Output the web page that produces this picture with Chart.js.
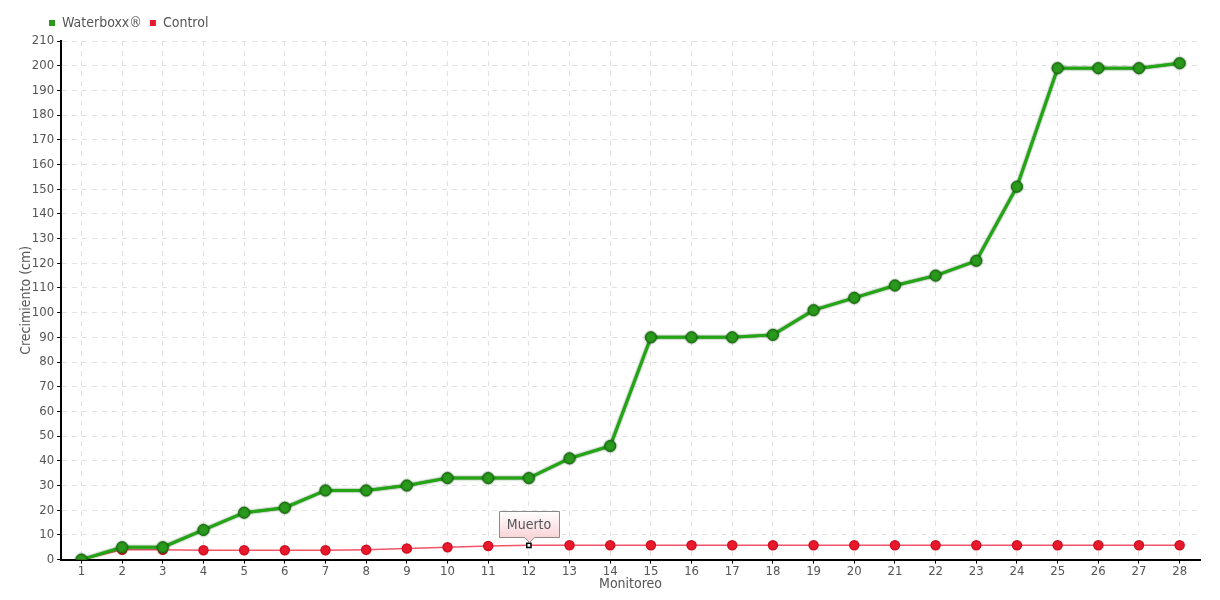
<!DOCTYPE html>
<html>
<head>
<meta charset="utf-8">
<script src="https://cdn.jsdelivr.net/npm/chart.js@4.4.0/dist/chart.umd.min.js"></script>
<style>
  html, body { margin: 0; padding: 0; background: #fff; }
  #wrap { width: 1220px; height: 600px; }
</style>
</head>
<body>
<div id="wrap"><canvas id="growthChart" width="1220" height="600"></canvas></div>
<script>
// Datos del monitoreo
const monitoreos = ['1','2','3','4','5','6','7','8','9','10','11','12','13','14','15','16','17','18','19','20','21','22','23','24','25','26','27','28'];
const waterboxx = [0, 5, 5, 12, 19, 21, 28, 28, 30, 33, 33, 33, 41, 46, 90, 90, 90, 91, 101, 106, 111, 115, 121, 151, 199, 199, 199, 201];
const control = [0, 4, 4, 3.8, 3.8, 3.8, 3.8, 4, 4.5, 5, 5.5, 5.8, 5.8, 5.8, 5.8, 5.8, 5.8, 5.8, 5.8, 5.8, 5.8, 5.8, 5.8, 5.8, 5.8, 5.8, 5.8, 5.8];
const muertoIndex = 11;
const muertoLabel = 'Muerto';

const FONT = '"DejaVu Sans Condensed", "Liberation Sans Narrow", sans-serif';
const TEXT = '#555555';

// Sombra para la linea verde
const lineShadow = {
    id: 'lineShadow',
    beforeDatasetDraw(chart, args) {
        if (args.index !== 0) return;
        chart.ctx.save();
        chart.ctx.shadowColor = 'rgba(10, 70, 0, 0.8)';
        chart.ctx.shadowBlur = 2;
    },
    afterDatasetDraw(chart, args) {
        if (args.index !== 0) return;
        chart.ctx.restore();
    }
};

// Leyenda un poco a la derecha, como en el original
const legendShift = {
    id: 'legendShift',
    afterLayout(chart) {
        chart.legend.left += 33;
        chart.legend.top -= 1;
    }
};

// Etiqueta "Muerto" sobre el punto del control
const muertoTag = {
    id: 'muertoTag',
    afterDatasetsDraw(chart) {
        const pt = chart.getDatasetMeta(1).data[muertoIndex];
        if (!pt) return;
        const ctx = chart.ctx;
        const w = 60, h = 26, caret = 5;
        const x = Math.round(pt.x - w / 2);
        const bottom = Math.round(pt.y - 8);
        const top = bottom - h;
        const cx = Math.round(pt.x);
        ctx.save();
        const grad = ctx.createLinearGradient(0, top, 0, bottom);
        grad.addColorStop(0, '#ffffff');
        grad.addColorStop(1, '#f9d5d9');
        ctx.beginPath();
        ctx.moveTo(x + 0.5, top + 0.5);
        ctx.lineTo(x + w + 0.5, top + 0.5);
        ctx.lineTo(x + w + 0.5, bottom + 0.5);
        ctx.lineTo(cx + caret + 0.5, bottom + 0.5);
        ctx.lineTo(cx + 0.5, bottom + caret + 0.5);
        ctx.lineTo(cx - caret + 0.5, bottom + 0.5);
        ctx.lineTo(x + 0.5, bottom + 0.5);
        ctx.closePath();
        ctx.fillStyle = grad;
        ctx.fill();
        ctx.strokeStyle = '#8a8a8a';
        ctx.lineWidth = 1;
        ctx.stroke();
        ctx.fillStyle = TEXT;
        ctx.font = '14px ' + FONT;
        ctx.textAlign = 'center';
        ctx.textBaseline = 'middle';
        ctx.fillText(muertoLabel, cx, top + h / 2 + 1);
        ctx.restore();
    }
};

const pointStyles = control.map((v, i) => i === muertoIndex ? 'rect' : 'circle');
const pointBg = control.map((v, i) => i === muertoIndex ? '#ffffff' : '#e8192c');
const pointBorder = control.map((v, i) => i === muertoIndex ? '#000000' : '#d0101f');
const pointRad = control.map((v, i) => i === muertoIndex ? 3 : 4.5);

new Chart(document.getElementById('growthChart'), {
    type: 'line',
    data: {
        labels: monitoreos,
        datasets: [{
            label: 'Waterboxx®',
            data: waterboxx,
            borderColor: '#22a614',
            backgroundColor: '#2b9a1c',
            borderWidth: 3,
            tension: 0,
            pointRadius: 5.5,
            pointBackgroundColor: '#2a9a1c',
            pointBorderColor: '#1a6e10',
            pointBorderWidth: 1
        }, {
            label: 'Control',
            data: control,
            borderColor: '#f4546a',
            backgroundColor: '#e8192c',
            borderWidth: 1.5,
            tension: 0,
            pointStyle: pointStyles,
            pointRadius: pointRad,
            pointBackgroundColor: pointBg,
            pointBorderColor: pointBorder,
            pointBorderWidth: 1.5
        }]
    },
    options: {
        responsive: false,
        animation: false,
        layout: { padding: { left: 8, right: 20, top: 9, bottom: 7 } },
        plugins: {
            legend: {
                position: 'top',
                align: 'start',
                labels: {
                    boxWidth: 6,
                    boxHeight: 6,
                    padding: 8,
                    color: TEXT,
                    font: { family: FONT, size: 14 },
                    generateLabels(chart) {
                        return chart.data.datasets.map((ds, i) => ({
                            text: ds.label,
                            fillStyle: ds.backgroundColor,
                            strokeStyle: ds.backgroundColor,
                            lineWidth: 0,
                            fontColor: TEXT,
                            datasetIndex: i,
                            hidden: false
                        }));
                    }
                }
            },
            tooltip: { enabled: false }
        },
        scales: {
            x: {
                offset: true,
                grid: {
                    offset: false,
                    color: '#e2e2e2',
                    tickColor: '#000000',
                    tickBorderDash: [],
                    tickLength: 4
                },
                border: { color: '#000000', width: 2, dash: [5, 5] },
                ticks: { color: TEXT, font: { family: FONT, size: 13 }, padding: 0, maxRotation: 0, autoSkip: false },
                title: { display: true, text: 'Monitoreo', color: TEXT, font: { family: FONT, size: 14 }, padding: { top: -3, bottom: 0 } }
            },
            y: {
                min: 0,
                max: 210,
                grid: {
                    color: '#e2e2e2',
                    tickColor: '#000000',
                    tickBorderDash: [],
                    tickLength: 4
                },
                border: { color: '#000000', width: 2, dash: [5, 5] },
                ticks: { stepSize: 10, color: TEXT, font: { family: FONT, size: 13 }, padding: 3 },
                title: { display: true, text: 'Crecimiento (cm)', color: TEXT, font: { family: FONT, size: 14 }, padding: { top: 10, bottom: -6 } }
            }
        }
    },
    plugins: [lineShadow, legendShift, muertoTag]
});
</script>
</body>
</html>
